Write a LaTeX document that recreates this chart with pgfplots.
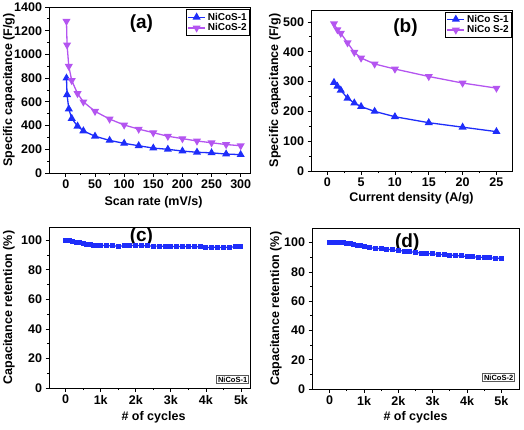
\documentclass[border=0pt]{standalone}
\usepackage{pgfplots}
\pgfplotsset{compat=1.18}
\usepackage{fontspec}
\setmainfont{Liberation Sans}
\definecolor{cblue}{RGB}{30,45,250}
\definecolor{cpurp}{RGB}{180,85,240}
\pgfplotsset{
  panel/.style={
    scale only axis, anchor=south west,
    ymin=0,
    axis line style={line width=0.9pt},
    tick align=outside, tick pos=left,
    major tick length=3.5pt, minor tick length=2pt,
    every tick/.style={line width=0.8pt, black},
    minor x tick num=1, minor y tick num=1,
    /pgf/number format/assume math mode=true,
    /pgf/number format/set thousands separator={},
    ticklabel style={font=\fontsize{12.5}{14}\selectfont\bfseries},
    label style={font=\fontsize{12.5}{14}\selectfont\bfseries},
    legend style={font=\fontsize{10}{11}\selectfont\bfseries, draw=black, line width=0.6pt,
      inner sep=1pt, row sep=-2pt, legend cell align=left},
    legend image code/.code={\draw[mark repeat=2,mark phase=2] plot coordinates {(0cm,0cm) (0.3cm,0cm) (0.6cm,0cm)};},
  },
  s1/.style={color=cblue, line width=1.3pt, mark=triangle*, mark size=3.4pt},
  s2/.style={color=cpurp, line width=1.3pt, mark=triangle*, mark size=3.4pt, every mark/.append style={rotate=180}},
  s3/.style={color=cblue, line width=1.2pt, mark=square*, mark size=1.9pt},
}
\begin{document}
\begin{tikzpicture}
\useasboundingbox (0,0) rectangle (524pt,429pt);
% (a)
\begin{axis}[panel, at={(49pt,256pt)}, width=201pt, height=166pt,
  xmin=-29, xmax=316, ymax=1400,
  xtick={0,50,...,300}, ytick={0,200,...,1400},
  xlabel={Scan rate (mV/s)}, ylabel={Specific capacitance (F/g)},
  xlabel style={at={(rel axis cs:0.52,-0.175)}, anchor=center},
  ylabel style={at={(rel axis cs:-0.199,0.5)}, anchor=center},
  legend style={at={(1,0.985)}, anchor=north east}]
\addplot[s1] coordinates {(1,800) (2,660) (5,540) (10,460) (20,395) (30,355) (50,310) (75,275) (100,250) (125,230) (150,210) (175,200) (200,185) (225,175) (250,170) (275,160) (300,155)};
\addplot[s2] coordinates {(1,1280) (2,1080) (5,900) (10,780) (20,670) (30,600) (50,520) (75,455) (100,405) (125,370) (150,340) (175,310) (200,290) (225,270) (250,255) (275,240) (300,230)};
\legend{NiCoS-1,NiCoS-2}
\node[font=\fontsize{19}{19}\selectfont\bfseries] at (rel axis cs:0.46,0.90) {(a)};
\end{axis}
% (b)
\begin{axis}[panel, at={(311pt,258pt)}, width=201pt, height=161pt,
  xmin=-2.4, xmax=27.3, ymax=540,
  xtick={0,5,...,25}, ytick={0,100,...,500},
  xlabel={Current density (A/g)}, ylabel={Specific capacitance (F/g)},
  xlabel style={at={(rel axis cs:0.5,-0.168)}, anchor=center},
  ylabel style={at={(rel axis cs:-0.179,0.5)}, anchor=center},
  legend style={at={(1,0.99)}, anchor=north east}]
\addplot[s1] coordinates {(1,297) (1.5,284) (2,271) (3,244) (4,228) (5,216) (7,200) (10,182) (15,162) (20,147) (25,132)};
\addplot[s2] coordinates {(1,494) (1.5,474) (2,462) (3,430) (4,398) (5,379) (7,359) (10,342) (15,317) (20,295) (25,278)};
\legend{NiCo S-1,NiCo S-2}
\node[font=\fontsize{19}{19}\selectfont\bfseries] at (rel axis cs:0.47,0.89) {(b)};
\end{axis}
% (c)
\begin{axis}[panel, at={(49pt,41pt)}, width=201pt, height=161pt,
  xmin=-476, xmax=5257, ymax=109,
  xtick={0,1000,...,5000}, xticklabels={0,1k,2k,3k,4k,5k}, ytick={0,20,...,100},
  xlabel={\# of cycles}, ylabel={Capacitance retention (\%)},
  xlabel style={at={(rel axis cs:0.52,-0.18)}, anchor=center},
  ylabel style={at={(rel axis cs:-0.199,0.5)}, anchor=center}]
\addplot[s3] coordinates {(0,100) (100,99.7) (200,99.2) (300,98.7) (400,98.2) (500,97.8) (600,97.4) (700,97.0) (800,96.8) (900,96.6) (1000,96.5) (1167,96.4) (1333,96.3) (1500,96.1) (1667,96.2) (1833,96.4) (2000,96.5) (2167,96.3) (2333,96.2) (2500,96.1) (2667,96.0) (2833,95.9) (3000,95.8) (3167,95.8) (3333,95.8) (3500,95.7) (3667,95.7) (3833,95.5) (4000,95.1) (4167,95.2) (4333,95.4) (4500,95.0) (4667,95.4) (4833,95.6) (5000,95.7)};
\node[font=\fontsize{19}{19}\selectfont\bfseries] at (rel axis cs:0.46,0.94) {(c)};
\node[draw=gray!70!black, line width=0.6pt, inner sep=1.5pt, font=\fontsize{7.5}{8}\selectfont\bfseries, anchor=south east] at ([xshift=-1pt,yshift=4pt]rel axis cs:1,0) {NiCoS-1};
\end{axis}
% (d)
\begin{axis}[panel, at={(312pt,40pt)}, width=207pt, height=161pt,
  xmin=-516, xmax=5515, ymax=110,
  xtick={0,1000,...,5000}, xticklabels={0,1k,2k,3k,4k,5k}, ytick={0,20,...,100},
  xlabel={\# of cycles}, ylabel={Capacitance retention (\%)},
  xlabel style={at={(rel axis cs:0.5,-0.174)}, anchor=center},
  ylabel style={at={(rel axis cs:-0.174,0.5)}, anchor=center}]
\addplot[s3] coordinates {(0,100.2) (100,100.0) (200,100.1) (300,100.4) (400,100.0) (500,99.7) (600,99.2) (700,98.6) (800,98.2) (900,98.0) (1000,97.4) (1167,96.6) (1333,96.1) (1500,95.8) (1667,95.5) (1833,95.0) (2000,94.6) (2167,94.2) (2333,93.8) (2500,93.3) (2667,92.9) (2833,92.6) (3000,92.3) (3167,92.0) (3333,91.8) (3500,91.5) (3667,91.2) (3833,90.9) (4000,90.6) (4167,90.3) (4333,90.1) (4500,89.8) (4667,89.6) (4833,89.3) (5000,89.3)};
\node[font=\fontsize{19}{19}\selectfont\bfseries] at (rel axis cs:0.46,0.91) {(d)};
\node[draw=gray!70!black, line width=0.6pt, inner sep=1.5pt, font=\fontsize{7.5}{8}\selectfont\bfseries, anchor=south east] at ([xshift=-4pt,yshift=7pt]rel axis cs:1,0) {NiCoS-2};
\end{axis}
\end{tikzpicture}
\end{document}
